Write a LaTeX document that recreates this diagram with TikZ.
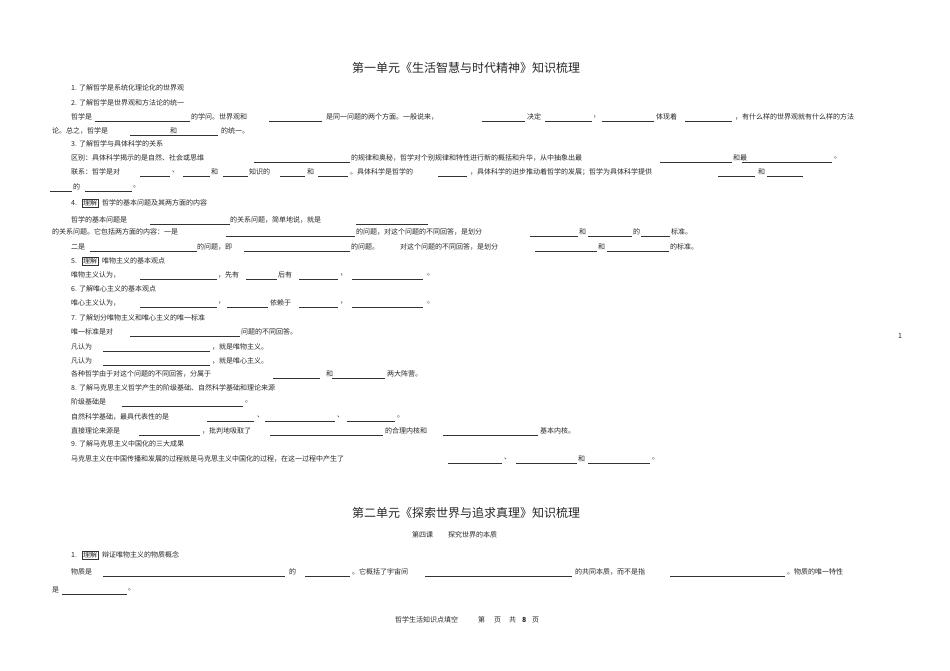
\documentclass[tikz,border=0pt]{standalone}
\usepackage{fontspec}
\setmainfont{Noto Sans CJK SC}
\begin{document}
\begin{tikzpicture}[x=1pt,y=-1pt,
 txt/.style={anchor=west,inner sep=0,text=black!85,font=\fontsize{7}{8}\selectfont},
 ttl/.style={anchor=west,inner sep=0,text=black!85,font=\fontsize{12}{14}\selectfont},
 bl/.style={draw=black!80,line width=0.5pt},
 bx/.style={txt,draw=black!80,line width=0.5pt,inner sep=0.8pt}]
\useasboundingbox (0,0) rectangle (950,671);
\newcommand\T[3]{\node[txt] at (#1,#2) {#3};}
\newcommand\B[3]{\draw[bl] (#1,#2+4.5) -- (#3,#2+4.5);}
\node[ttl] (t1) at (352,68) {第一单元《生活智慧与时代精神》知识梳理};
\T{71}{88}{1. 了解哲学是系统化理论化的世界观}
\T{71}{103}{2. 了解哲学是世界观和方法论的统一}
\T{71}{117}{哲学是}\B{95}{117}{190}\T{191}{117}{的学问。世界观和}\B{269}{117}{322}
\T{326}{117}{是同一问题的两个方面。一般说来，}\B{482}{117}{525}\T{527}{117}{决定}\B{545}{117}{592}
\T{593}{117}{，}\B{602}{117}{654}\T{656}{117}{体现着}\B{685}{117}{732}\T{735}{117}{，有什么样的世界观就有什么样的方法}
\T{52}{131}{论。总之，哲学是}\B{130}{131}{218}\T{170}{131}{和}\T{221}{131}{的统一。}
\T{71}{144}{3. 了解哲学与具体科学的关系}
\T{71}{158}{区别：具体科学揭示的是自然、社会或思维}\B{254}{158}{350}
\T{351}{158}{的规律和奥秘，哲学对个别规律和特性进行新的概括和升华，从中抽象出最}\B{660}{158}{732}\T{733}{158}{和最}\B{742}{158}{832}\T{834}{158}{。}
\T{71}{172}{联系：哲学是对}\B{140}{172}{170}\T{172}{172}{、}\B{183}{172}{210}\T{211}{172}{和}\B{223}{172}{248}
\T{249}{172}{知识的}\B{280}{172}{305}\T{307}{172}{和}\B{318}{172}{348}\T{350}{172}{。具体科学是哲学的}\B{438}{172}{467}
\T{470}{172}{，具体科学的进步推动着哲学的发展；哲学为具体科学提供}\B{718}{172}{755}\T{758}{172}{和}\B{767}{172}{803}
\B{50}{187}{72}\T{73}{187}{的}\B{85}{187}{132}\T{133}{187}{。}
\T{71}{203}{4.}\node[bx] at (82,203) {理解};\T{102}{203}{哲学的基本问题及其两方面的内容}
\T{71}{220}{哲学的基本问题是}\B{150}{220}{230}\T{230}{220}{的关系问题，简单地说，就是}\B{356}{220}{428}
\T{52}{232}{的关系问题。它包括两方面的内容：一是}\B{226}{232}{355}\T{356}{232}{的问题，对这个问题的不同回答，是划分}
\B{530}{232}{578}\T{579}{232}{和}\B{588}{232}{632}\T{633}{232}{的}\B{641}{232}{670}\T{671}{232}{标准。}
\T{71}{247}{二是}\B{90}{247}{197}\T{197}{247}{的问题，即}\B{244}{247}{350}\T{351}{247}{的问题。}
\T{400}{247}{对这个问题的不同回答，是划分}\B{535}{247}{597}\T{598}{247}{和}\B{607}{247}{669}\T{670}{247}{的标准。}
\T{71}{261}{5.}\node[bx] at (82,261) {理解};\T{102}{261}{唯物主义的基本观点}
\T{71}{275}{唯物主义认为，}\B{140}{275}{217}\T{218}{275}{，先有}\B{246}{275}{277}\T{278}{275}{后有}\B{299}{275}{338}\T{340}{275}{，}\B{352}{275}{423}\T{427}{275}{。}
\T{71}{289}{6. 了解唯心主义的基本观点}
\T{71}{303}{唯心主义认为，}\B{140}{303}{217}\T{218}{303}{，}\B{227}{303}{268}\T{270}{303}{依赖于}\B{299}{303}{338}\T{340}{303}{，}\B{352}{303}{423}\T{427}{303}{。}
\T{71}{318}{7. 了解划分唯物主义和唯心主义的唯一标准}
\T{71}{332}{唯一标准是对}\B{130}{332}{240}\T{241}{332}{问题的不同回答。}
\T{71}{347}{凡认为}\B{103}{347}{210}\T{212}{347}{，就是唯物主义。}
\T{71}{361}{凡认为}\B{103}{361}{210}\T{212}{361}{，就是唯心主义。}
\T{71}{374}{各种哲学由于对这个问题的不同回答，分属于}\B{273}{374}{320}\T{326}{374}{和}\B{332}{374}{385}\T{387}{374}{两大阵营。}
\T{71}{388}{8. 了解马克思主义哲学产生的阶级基础、自然科学基础和理论来源}
\T{71}{402}{阶级基础是}\B{122}{402}{243}\T{245}{402}{。}
\T{71}{417}{自然科学基础，最具代表性的是}\B{207}{417}{254}\T{257}{417}{、}\B{265}{417}{335}\T{337}{417}{、}\B{347}{417}{395}\T{397}{417}{。}
\T{71}{431}{直接理论来源是}\B{139}{431}{200}\T{202}{431}{，批判地吸取了}\B{270}{431}{383}\T{385}{431}{的合理内核和}\B{443}{431}{538}\T{540}{431}{基本内核。}
\T{71}{444}{9. 了解马克思主义中国化的三大成果}
\T{71}{459}{马克思主义在中国传播和发展的过程就是马克思主义中国化的过程，在这一过程中产生了}\B{448}{459}{502}\T{504}{459}{、}\B{516}{459}{577}\T{578}{459}{和}\B{588}{459}{650}\T{652}{459}{。}
\T{898}{336}{1}
\node[ttl] (t2) at (352,513) {第二单元《探索世界与追求真理》知识梳理};
\T{412}{535}{第四课}\T{448}{535}{探究世界的本质}
\T{71}{555}{1.}\node[bx] at (82,555) {理解};\T{102}{555}{辩证唯物主义的物质概念}
\T{71}{572}{物质是}\B{103}{572}{285}\T{289}{572}{的}\B{305}{572}{350}\T{352}{572}{。它概括了宇宙间}\B{425}{572}{572}\T{575}{572}{的共同本质，而不是指}\B{670}{572}{785}\T{787}{572}{。物质的唯一特性}
\T{52}{590}{是}\B{62}{590}{127}\T{128}{590}{。}
\T{395}{620}{哲学生活知识点填空}\T{478}{620}{第}\T{494}{620}{页}\T{509}{620}{共}\T{522}{620}{\textbf{8}}\T{532}{620}{页}
\end{tikzpicture}
\end{document}
